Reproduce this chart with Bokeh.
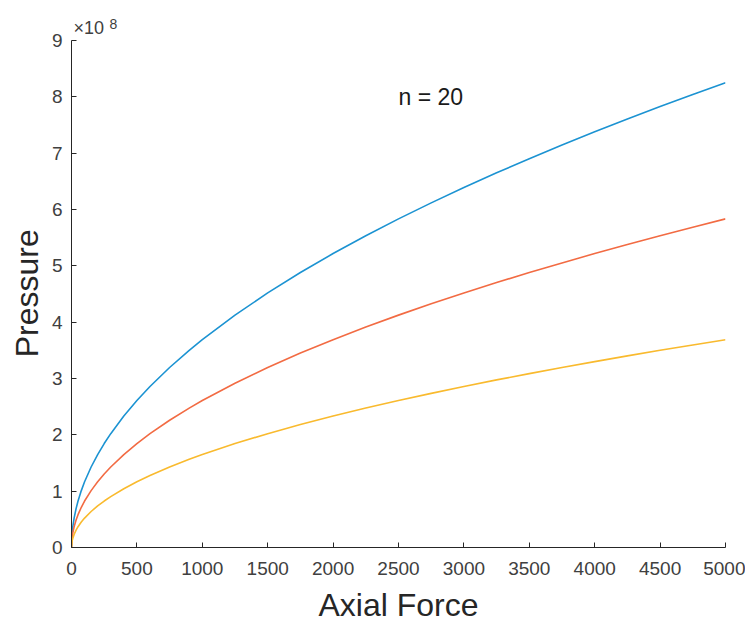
from bokeh.plotting import figure
from bokeh.models import Range1d, Label, FixedTicker
from bokeh.embed import file_html
from bokeh.resources import INLINE

# Axial force values (x) and pressure values, in units of 1e8
force = [0, 5, 10, 20, 35, 50, 75, 100, 150, 200, 250, 300, 400, 500, 600, 750, 900, 1000,
         1250, 1500, 1750, 2000, 2250, 2500, 2750, 3000, 3250, 3500, 3750, 4000, 4250, 4500, 4750, 5000]
pressure_blue = [0.0, 0.261, 0.369, 0.522, 0.690, 0.825, 1.010, 1.167, 1.429, 1.650, 1.845, 2.021,
                 2.333, 2.609, 2.858, 3.195, 3.500, 3.689, 4.125, 4.519, 4.881, 5.218, 5.534, 5.834,
                 6.118, 6.390, 6.651, 6.902, 7.145, 7.379, 7.606, 7.827, 8.041, 8.250]
pressure_orange = [0.0, 0.185, 0.261, 0.369, 0.488, 0.583, 0.714, 0.825, 1.010, 1.167, 1.305, 1.429,
                   1.650, 1.845, 2.021, 2.259, 2.475, 2.609, 2.917, 3.195, 3.452, 3.689, 3.913, 4.125,
                   4.326, 4.519, 4.703, 4.881, 5.052, 5.218, 5.378, 5.534, 5.686, 5.834]
pressure_yellow = [0.0, 0.117, 0.165, 0.233, 0.309, 0.369, 0.452, 0.522, 0.639, 0.738, 0.825, 0.904,
                   1.043, 1.167, 1.278, 1.429, 1.565, 1.650, 1.845, 2.021, 2.183, 2.333, 2.475, 2.609,
                   2.736, 2.858, 2.975, 3.087, 3.195, 3.300, 3.401, 3.500, 3.596, 3.689]
x_ticks = [0, 500, 1000, 1500, 2000, 2500, 3000, 3500, 4000, 4500, 5000]
y_ticks = [0, 1, 2, 3, 4, 5, 6, 7, 8, 9]
y_max = 9
annotation = "n = 20"
exponent_base = "×10"
exponent = "8"
x_label = "Axial Force"
y_label = "Pressure"

FONT = "Liberation Sans"

# Frame extends 28 px above the y=9 axis end so the exponent label fits inside it
AXIS_PX = 507
EXTRA_PX = 28
y_end = y_max * (AXIS_PX + EXTRA_PX) / AXIS_PX

p = figure(frame_width=654, frame_height=AXIS_PX + EXTRA_PX, output_backend="svg", toolbar_location=None,
           x_range=Range1d(0, 5000), y_range=Range1d(0, y_end),
           min_border_left=71, min_border_right=20, min_border_top=40 - EXTRA_PX, min_border_bottom=74)
p.outline_line_color = None
p.grid.visible = False
p.background_fill_color = "white"
p.border_fill_color = "white"

colors = ["#1C93D2", "#F26B43", "#F9BA2E"]
for ys, c in zip([pressure_blue, pressure_orange, pressure_yellow], colors):
    p.line(force, ys, line_color=c, line_width=1.6)

for ax in (p.xaxis[0], p.yaxis[0]):
    ax.axis_line_color = "#262626"
    ax.major_tick_line_color = "#262626"
    ax.major_tick_in = 5
    ax.major_tick_out = 0
    ax.minor_tick_line_color = None
    ax.major_label_text_font = FONT
    ax.major_label_text_font_size = "19px"
    ax.major_label_text_color = "#404040"
    ax.axis_label_text_font = FONT
    ax.axis_label_text_font_size = "32px"
    ax.axis_label_text_font_style = "normal"
    ax.axis_label_text_color = "#262626"

p.yaxis.bounds = (0, y_max)
p.xaxis.ticker = FixedTicker(ticks=x_ticks)
p.yaxis.ticker = FixedTicker(ticks=y_ticks)
p.xaxis.axis_label = x_label
# trailing no-break spaces re-centre the label on the 0..9 axis span (frame is taller)
p.yaxis.axis_label = y_label + "\u00a0" * 3
p.xaxis.major_label_standoff = 14
p.yaxis.major_label_standoff = 9
p.xaxis.axis_label_standoff = 9
p.yaxis.axis_label_standoff = 4

p.add_layout(Label(x=0, y=y_max, x_offset=2, y_offset=3, text=exponent_base, text_font=FONT,
                   text_font_size="18px", text_color="#404040", text_baseline="bottom"))
p.add_layout(Label(x=0, y=y_max, x_offset=38, y_offset=12, text=exponent, text_font=FONT,
                   text_font_size="14px", text_color="#404040", text_baseline="bottom"))
p.add_layout(Label(x=2500, y=8.0, text=annotation, text_font=FONT, text_font_size="23px",
                   text_color="#1a1a1a", text_baseline="middle", text_align="left"))

open("out.html", "w").write(file_html(p, INLINE))
